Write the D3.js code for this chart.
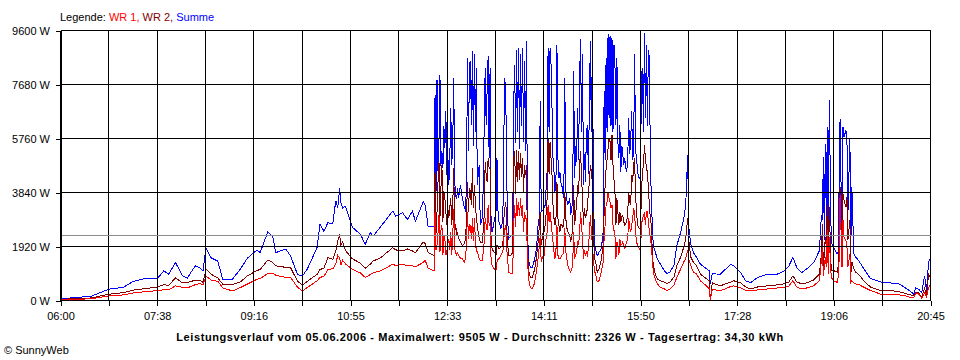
<!DOCTYPE html>
<html>
<head>
<meta charset="utf-8">
<script src="https://cdn.jsdelivr.net/npm/d3@7/dist/d3.min.js"></script>
<style>
  html, body { margin: 0; padding: 0; background: #fff; }
  svg { display: block; font-family: "Liberation Sans", Arial, sans-serif; }
</style>
</head>
<body>
<svg id="chart" width="960" height="360"></svg>
<script>
// Zeitpunkte: Minuten seit 06:00
const minutesMorning = [0,13,31,49,64,74,88,99,105,110,117,124,129,137,142,145,148,153,160,165,175,183,190,200,203,211,216,219,229,234,241,246,251,261,264,268,272,277,280,282,284,285,287,290,297,305,310,315,318,326,338,341,348,353,358,361,369,371,374,379];
const minutesNoon = d3.range(380, 604); // one sample per minute 12:20 .. 15:43
const minutesAfternoon = [605,607,610,614,617,620,624,627,631,634,636,638,639,641,644,647,651,656,660,661,663,671,682,685,692,697,702,709,719,729,736,741,745,749,754,759,766,772,774,775,776,777,778,779,780,781,782,784,785,786,788,790,791,792,793,795,796,797,799,800,801,803,804,805,807,809,812,817,824,834,847,854,860,865,868,870,873,876,879,881,883,885];

// Summe (W)
const summe = [
  60,100,150,400,470,680,800,800,1050,940,1350,880,800,1230,1160,1050,1880,1520,1400,760,760,1120,1500,1800,1700,2450,2250,1700,1830,1590,930,870,1110,1890,2720,2460,2770,2720,3550,3300,4010,3500,3290,3350,2600,2360,2000,2410,2290,2640,3180,3000,3120,2880,3180,2820,3510,3390,2620,2620,
  2620,7320,3900,7850,4600,5650,8030,4800,5300,4700,
  6200,5410,6720,4460,5200,4100,5000,6840,4820,5600,
  7910,4220,3700,3630,4000,3630,3900,4100,3800,3630,
  3400,3330,3150,4220,8630,5300,8390,8510,6250,8870,
  5500,8750,6000,8270,4100,4500,4820,2680,2800,2920,
  4000,6250,8270,6250,7500,8690,5060,8270,2680,2440,
  2600,2800,2950,3150,5060,3200,2800,2700,2560,2700,
  2920,5890,7910,7200,4200,2800,2200,2250,2320,2320,
  2320,6960,8390,5600,8920,6000,8980,5400,8750,6200,
  8980,5650,8510,5300,9220,2680,1490,1300,1190,1190,
  1190,1300,1430,1600,1840,2200,2800,2920,7080,3150,
  3200,3210,3300,3390,4000,4580,8980,6000,8980,8390,
  6840,5060,4580,3870,4200,9100,5060,4340,4580,4200,
  4100,3800,3630,7910,3870,3600,3390,3500,3630,3030,
  3300,3510,8150,4340,5500,4940,6840,5000,7790,9280,
  6000,8750,4100,5200,4220,6000,6250,4500,7000,9220,
  6000,8870,4820,2080,1850,1730,1610,1650,1730,1780,
  1840,2100,2440,7440,5000,8630,6000,9460,6500,9400,
  6200,9340,6000,9100,8390,6250,8630,5650,5060,6250,
  4580,5500,5180,4820,5060,4700,4580,5060,6490,5200,
  5650,6720,5000,5300,8750,5300,5060,4580,4400,4340,
  4340,8030,8270,6000,9505,6500,9100,6200,8920,8630,
  5060,3630,2680,1960,
  1730,1490,1310,1070,950,1010,1250,1960,2440,2920,3390,5180,2680,2000,1700,
  1530,1290,1160,1050,590,950,935,1290,1230,990,700,635,815,935,935,1050,1230,1530,1170,990,1120,1340,1770,
  3030,2850,5100,2140,5580,2850,6170,2370,7120,2140,1960,1900,1780,1660,1720,3920,6470,1900,6170,5820,6050,5700,3090,5760,2020,4040,1660,1540,1420,1130,780,
  660,615,580,435,315,220,455,400,280,875,340,1350,1530
];
// WR 2 (W)
const wr2 = [
  30,70,90,220,280,370,430,480,560,540,800,630,640,720,720,640,1110,940,800,580,570,660,870,1070,1100,1440,1350,1230,1180,1170,690,550,680,930,1100,1150,1520,1470,1750,2100,2350,1950,2100,1770,1480,1330,1150,1290,1400,1530,1880,1800,1760,1830,1760,1700,2080,2020,1700,1610,
  1610,4580,2400,3150,4200,4940,2920,4000,4820,2800,
  3900,3630,3150,2680,3300,2920,3300,3630,2680,3400,
  4700,2440,2700,2320,2400,2200,2150,2080,2000,1960,
  2000,2020,2200,2900,4220,3150,4000,3870,3390,4700,
  3300,4100,3500,2920,2680,2400,2200,2080,2080,2080,
  2500,3030,4940,4460,4200,5060,4700,4700,2200,1840,
  1780,1730,1680,1610,1960,1900,1840,1870,1900,1930,
  1960,2920,3270,3510,2500,1960,1610,1600,1610,1650,
  1730,5060,5300,3800,5360,4200,5300,4300,5240,4400,
  5060,3870,4820,4460,4820,1960,1130,950,830,830,
  830,950,1070,1250,1490,1800,2140,2600,3150,1960,
  2200,2440,2440,2680,3100,3630,5770,4500,5650,5060,
  4460,3390,2920,2680,2900,4220,2920,2680,2440,2700,
  2680,2600,2680,3870,2920,2600,2440,2400,2320,2080,
  2300,2440,4100,2680,3100,3390,4100,3800,4820,5300,
  4460,3630,2680,3300,2920,3100,3270,3870,4200,4820,
  4580,4200,2680,1610,1400,1250,1010,1050,1130,1300,
  1430,1700,1960,3150,4100,4700,5000,5410,5770,5650,
  5000,5890,4820,4300,3870,2680,3630,3150,2680,3150,
  2800,3000,3030,2800,2680,2750,2800,3150,3870,3500,
  3390,4460,4200,4820,5060,3700,3150,2680,2600,2560,
  2560,3870,4580,4800,5530,5060,4700,4580,4000,3390,
  2920,2680,1730,1250,
  950,770,710,655,595,655,830,1250,1550,1900,2200,2920,2200,1550,1350,
  1230,935,800,700,0,625,520,660,700,625,480,410,480,520,555,590,660,875,660,590,625,730,945,
  1660,2730,1190,1660,2260,1900,3380,1370,3320,1070,1070,1070,1040,1010,1190,1900,4040,1420,3800,3560,3320,3680,2140,2850,950,1370,1130,1010,930,710,475,
  357,340,300,245,195,160,280,280,100,435,195,945,815
];
// WR 1 (W)
const wr1 = [
  20,40,60,160,200,270,320,350,380,380,520,470,450,560,600,560,870,730,680,450,340,460,580,760,780,960,960,900,820,820,480,340,460,700,820,860,1100,1130,1300,1600,1520,1250,1430,1300,1110,980,820,920,980,1060,1290,1240,1290,1240,1230,1200,1350,1430,1150,1070,
  1070,3150,1800,1960,2400,3030,1730,2500,2680,1610,
  2300,2200,1610,1730,2000,2200,1800,2440,1610,2300,
  3270,1840,1700,1610,1700,1610,1550,1490,1500,1490,
  1400,1370,1490,2000,3150,2200,2700,2680,2200,2920,
  2100,2920,2200,1730,1730,1600,1490,1430,1430,1430,
  1700,2080,2920,2680,2500,3390,2680,2680,1490,1250,
  1200,1130,1100,1070,1370,1450,1490,1550,1610,1670,
  1730,2200,2560,2680,1800,1370,1010,980,950,950,
  950,2680,3390,2600,3630,3000,3510,3000,3630,3000,
  3390,2440,3150,2920,2920,1490,830,600,475,440,
  420,500,600,800,1010,1250,1550,1900,2320,1370,
  1500,1610,1610,1960,2200,2440,3390,2800,3150,2800,
  2440,2080,1730,1490,1800,2680,1610,1490,1490,1550,
  1610,1650,1730,2560,1730,1500,1250,1150,1070,1010,
  1100,1250,2440,1490,1600,1730,2080,2000,2320,3150,
  2680,2200,1490,1800,1610,1700,1610,1840,2400,3030,
  2440,2000,1490,1130,950,830,655,680,710,850,
  1010,1200,1370,2200,2680,3390,3500,3870,3630,3510,
  3300,3390,2680,2500,2320,1490,2080,1960,1610,2200,
  1960,2000,2080,1960,1840,2000,2080,2200,2920,2600,
  2440,2680,2900,3270,3150,2400,2080,1960,1900,1840,
  1730,2680,2920,3000,3150,2680,3150,3150,2800,2440,
  2200,1960,1490,1010,
  770,595,475,415,360,415,535,830,1130,1370,1490,1790,1490,1250,1000,
  950,700,550,410,0,410,340,500,520,445,365,340,375,410,445,455,520,700,480,410,445,520,700,
  1420,1900,890,1190,1540,1190,2490,950,2260,830,770,710,680,650,830,1420,3740,1190,2850,2260,2140,1900,1190,1660,650,710,630,590,570,475,355,
  230,220,195,160,100,100,245,230,80,280,125,455,580
];
const minutes = minutesMorning.concat(minutesNoon, minutesAfternoon);

const xTickLabels = ["06:00","07:38","09:16","10:55","12:33","14:11","15:50","17:28","19:06","20:45"];
const yTickValues = [0, 1920, 3840, 5760, 7680, 9600];
const average = 2326;
const totalMinutes = 885;
const titleText = "Leistungsverlauf vom 05.06.2006 - Maximalwert: 9505 W - Durchschnitt: 2326 W - Tagesertrag: 34,30 kWh";

const svg = d3.select("#chart");
const x = d3.scaleLinear().domain([0, totalMinutes]).range([60.5, 930.5]);
const y = d3.scaleLinear().domain([0, 9600]).range([300.5, 30.5]);

const gridX = d3.range(19).map(i => i * totalMinutes / 18);

const n = Math.min(minutes.length, summe.length, wr1.length, wr2.length);
const line = (vals) => d3.line()
  .x((d, i) => x(minutes[i]))
  .y((d) => y(d))
  .curve(d3.curveLinear)(vals.slice(0, n));

const dataG = svg.append("g");
[[summe, "#0000ff"], [wr2, "#800000"], [wr1, "#ff0000"]].forEach(([vals, col]) => {
  dataG.append("path")
    .attr("d", line(vals))
    .attr("fill", "none")
    .attr("stroke", col)
    .attr("stroke-width", 1)
    .attr("shape-rendering", "crispEdges");
});

// grid on top
const grid = svg.append("g").attr("shape-rendering", "crispEdges");
grid.selectAll("line.v").data(gridX).join("line")
  .attr("x1", d => Math.round(x(d) - 0.5) + 0.5).attr("x2", d => Math.round(x(d) - 0.5) + 0.5)
  .attr("y1", y(9600)).attr("y2", y(0))
  .attr("stroke", "#000");
grid.selectAll("line.h").data(yTickValues).join("line")
  .attr("x1", x(0)).attr("x2", x(totalMinutes))
  .attr("y1", d => y(d)).attr("y2", d => y(d))
  .attr("stroke", "#000");
grid.append("line")
  .attr("x1", x(0) + 1).attr("x2", x(totalMinutes))
  .attr("y1", Math.round(y(average) - 0.5) + 0.5).attr("y2", Math.round(y(average) - 0.5) + 0.5)
  .attr("stroke", "#8c8c8c");

// axes
const xAxis = d3.axisBottom(x)
  .tickValues(gridX)
  .tickSize(5).tickSizeOuter(0).tickPadding(7)
  .tickFormat((d, i) => i % 2 === 0 ? xTickLabels[i / 2] : "");
const gx = svg.append("g").attr("transform", "translate(0,300)").attr("shape-rendering", "crispEdges").call(xAxis);
gx.selectAll(".tick line").attr("transform", "translate(0,0.5)");
gx.selectAll("text").attr("font-size", 11).attr("fill", "#000").attr("font-family", "Liberation Sans, Arial, sans-serif");
gx.select(".domain").attr("stroke", "#000");

const yAxis = d3.axisLeft(y)
  .tickValues(yTickValues)
  .tickSize(5).tickSizeOuter(0).tickPadding(5)
  .tickFormat(d => d + " W");
const gy = svg.append("g").attr("transform", "translate(60,0)").attr("shape-rendering", "crispEdges").call(yAxis);
gy.selectAll(".tick line").attr("transform", "translate(0.5,0)");
gy.selectAll("text").attr("font-size", 11).attr("fill", "#000").attr("font-family", "Liberation Sans, Arial, sans-serif");
gy.select(".domain").attr("stroke", "#000").attr("transform", "translate(0.5,0)");

// legend
const legend = svg.append("text").attr("x", 60).attr("y", 20.5).attr("font-size", 11);
legend.append("tspan").attr("fill", "#000").text("Legende: ");
legend.append("tspan").attr("fill", "#ff0000").text("WR 1, ");
legend.append("tspan").attr("fill", "#800000").text("WR 2, ");
legend.append("tspan").attr("fill", "#0000ff").text("Summe");

// title
svg.append("text").attr("x", 480).attr("y", 341).attr("text-anchor", "middle")
  .attr("font-size", 11).attr("font-weight", "bold").attr("letter-spacing", 0.6)
  .attr("fill", "#000").text(titleText);

svg.append("text").attr("x", 4).attr("y", 353.5).attr("font-size", 11).attr("fill", "#000").text("© SunnyWeb");
</script>
</body>
</html>
